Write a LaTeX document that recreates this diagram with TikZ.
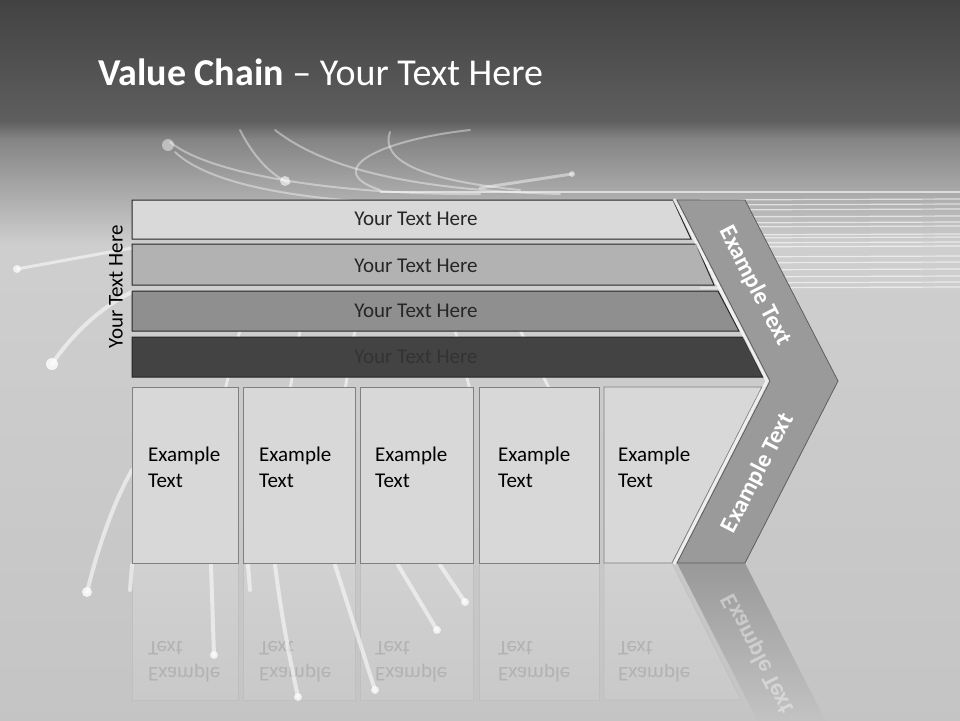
\documentclass[tikz,border=0pt]{standalone}
\usepackage{fontspec}
\setmainfont{Carlito}
\usepackage{graphicx}
\definecolor{barA}{HTML}{D9D9D9}
\definecolor{barB}{HTML}{B2B2B2}
\definecolor{barC}{HTML}{8F8F8F}
\definecolor{barD}{HTML}{434343}
\definecolor{boxfill}{HTML}{D8D8D8}
\definecolor{boxline}{HTML}{808080}
\definecolor{chevfill}{HTML}{9A9A9A}
\definecolor{chevline}{HTML}{5E5E5E}
\definecolor{floor}{HTML}{C9C9C9}
\newcommand{\fsz}[2]{\fontsize{#1}{#2}\selectfont}
\begin{document}
\begin{tikzpicture}[x=1pt,y=-1pt]
    % Styles
    \tikzstyle{streak}=[white,line cap=round,line width=3pt,opacity=.55]
    \tikzstyle{fine streak}=[white,line width=1.2pt,opacity=.6]
    \tikzstyle{bar line}=[draw=black!85,line width=1pt]
    \tikzstyle{bar text}=[font=\fsz{21}{25},text=black!85]
    \tikzstyle{box line}=[draw=boxline,line width=.9pt,fill=boxfill]
    \tikzstyle{box text}=[font=\fsz{21}{26},align=left,anchor=north west,inner sep=0pt]
    \tikzstyle{mirror text}=[font=\fsz{21}{26},anchor=base west,inner sep=0pt,text=black!30]
    \tikzstyle{chev text}=[font=\fsz{24}{28}\bfseries,text=white]
    \useasboundingbox (0,0) rectangle (960,720);
    %background
    \shade[top color=black!74,bottom color=black!63] (0,0) rectangle (960,121);
    \shade[top color=black!63,bottom color=black!48] (0,121) rectangle (960,139);
    \shade[top color=black!48,bottom color=black!19] (0,139) rectangle (960,245);
    \shade[top color=black!19,bottom color=black!23] (0,245) rectangle (960,720);
    %reflection
    \foreach \l/\r/\tx in {132/238/148,243/355/259,360/473/375,479/599/498}
    {
        \shade[top color=black!18,bottom color=floor,draw=black!25,line width=.6pt] (\l,563) -- (\l,700) -- (\r,700) -- (\r,563);
        \node[mirror text] at (\tx,641) {\scalebox{1}[-1]{\parbox[b]{80pt}{Example\\Text}}};
    }
    \shade[top color=black!18,bottom color=floor,draw=black!25,line width=.6pt] (604,563) -- (604,700) -- (741,700) -- (672,563);
    \node[mirror text] (mirrorfive) at (618,641) {\scalebox{1}[-1]{\parbox[b]{80pt}{Example\\Text}}};
    \shade[top color=black!40,bottom color=floor] (677,563) -- (745,563) -- (838,745) -- (770,745) -- cycle;
    \node[chev text,text=white,opacity=.4,rotate=-62.7] (mirrorchev) at (758,654) {\scalebox{1}[-1]{Example Text}};
    %streaks at the top
    \draw[streak,opacity=.4,line width=2pt] (170,142) .. controls (210,175) and (340,195) .. (480,194);
    \draw[streak,opacity=.4,line width=2pt] (175,152) .. controls (215,190) and (330,205) .. (470,205);
    \draw[streak,opacity=.4,line width=2pt] (240,130) .. controls (255,160) and (275,178) .. (290,183);
    \draw[streak,opacity=.4,line width=2pt] (275,130) .. controls (320,165) and (400,190) .. (560,194);
    \draw[streak,opacity=.4,line width=2pt] (470,130) .. controls (380,140) and (320,170) .. (380,190);
    \draw[streak,opacity=.4,line width=2pt] (390,132) .. controls (380,160) and (420,180) .. (520,190);
    \draw[streak,opacity=.45] (480,188) -- (572,174);
    \fill[white,opacity=.45] (168,145) circle (6pt);
    \fill[white,opacity=.6] (285,181) circle (5pt);
    \fill[white,opacity=.5] (572,174) circle (3pt);
    \draw[fine streak] (380,192) -- (960,192);
    \foreach \y in {200,205,210,217,223,227,235,238,243,247,257,263,270,277,283,288}
        \draw[fine streak] (700,\y) -- (960,\y-1);
    %streaks at the left
    \draw[streak] (17,269) -- (132,248);
    \fill[white,opacity=.7] (17,269) circle (4pt);
    \draw[streak,line width=4pt] (52,364) .. controls (75,330) and (105,305) .. (132,292);
    \fill[white,opacity=.8] (52,364) circle (6pt);
    \draw[streak,line width=4pt] (87,592) .. controls (100,540) and (115,500) .. (132,470);
    \fill[white,opacity=.8] (87,592) circle (5pt);
    %streaks under the boxes
    \draw[streak,line width=4pt] (132,565) -- (130,590);
    \draw[streak,line width=4pt] (211,565) -- (214,655);
    \draw[streak,line width=4pt] (248,565) -- (250,590);
    \draw[streak,line width=4pt] (275,565) .. controls (282,620) and (290,660) .. (298,697);
    \draw[streak,line width=4pt] (335,565) -- (375,690);
    \draw[streak,line width=4pt] (398,565) -- (437,630);
    \draw[streak,line width=4pt] (440,565) -- (465,602);
    \foreach \x/\y in {298/697,375/690,437/630,465/602,214/655}
        \fill[white,opacity=.7] (\x,\y) circle (4pt);
    %streaks behind the bars
    \draw[streak] (240,330) -- (225,390);
    \draw[streak] (300,330) -- (290,390);
    \draw[streak] (355,330) -- (345,390);
    \draw[streak] (455,330) -- (470,390);
    \draw[streak] (520,330) -- (550,390);
    %bars
    \foreach \t/\b/\rt/\rb/\col in {200/239/673/691/barA,244/285/696/714/barB,291/331/718/739/barC,337/377/743/763/barD}
    {
        \draw[bar line,fill=\col] (132,\t) -- (\rt,\t) -- (\rb,\b) -- (132,\b) -- cycle;
    }
    \node[bar text] (bar1) at (416,219) {Your Text Here};
    \node[bar text] (bar2) at (416,266) {Your Text Here};
    \node[bar text] (bar3) at (416,311) {Your Text Here};
    \node[bar text,text=black!80] (bar4) at (416,357) {Your Text Here};
    \node[font=\fsz{21}{25},rotate=90] (side) at (116,287) {Your Text Here};
    %boxes
    \foreach \l/\r/\tx [count=\i] in {132/238/148,243/355/259,360/473/375,479/599/498}
    {
        \draw[box line] (\l,387) rectangle (\r,563);
        \node[box text] (box\i) at (\tx,447) {Example\\Text};
    }
    \draw[box line] (604,387) -- (762,387) -- (672,563) -- (604,563) -- cycle;
    \node[box text] (box5) at (618,447) {Example\\Text};
    %chevron
    \draw[white,opacity=.7,line width=3pt] (674,199) -- (767,381) -- (674,564);
    \draw[fill=chevfill,draw=chevline,line width=.8pt] (677,200) -- (745,200) -- (838,381) -- (745,563) -- (677,563) -- (770,381) -- cycle;
    \node[chev text,rotate=-62.7] (chevtop) at (755,286) {Example Text};
    \node[chev text,rotate=62.7] (chevbottom) at (758,473) {Example Text};
    %title
    \node[anchor=base west,inner sep=0pt,text=white,font=\fsz{38}{45}] (title) at (98,85) {\textbf{Value Chain} – Your Text Here};
\end{tikzpicture}
\end{document}
